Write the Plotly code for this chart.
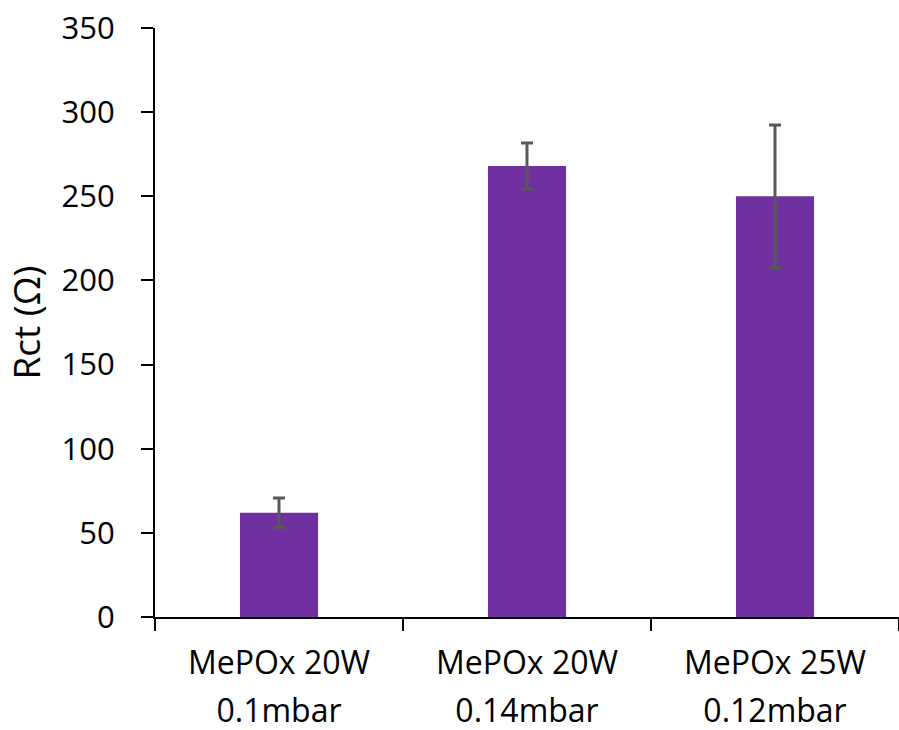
import plotly.graph_objects as go

# Charge-transfer resistance per MePOx deposition condition
conditions = ["MePOx 20W", "MePOx 20W", "MePOx 25W"]
pressures = ["0.1mbar", "0.14mbar", "0.12mbar"]
rct_values = [62, 268, 250]
rct_errors = [8.7, 13.7, 42.4]
y_ticks = [0, 50, 100, 150, 200, 250, 300, 350]

positions = list(range(len(rct_values)))
font_family = "Open Sans, Liberation Sans, sans-serif"

fig = go.Figure()
fig.add_trace(go.Bar(
    x=positions,
    y=rct_values,
    marker=dict(color="#7030A0", line=dict(width=0)),
    error_y=dict(type="data", array=rct_errors, visible=True,
                 color="#595959", thickness=3, width=6),
    width=0.315,
    showlegend=False,
))
# invisible helpers so the extra axes carry the two label lines
fig.add_trace(go.Scatter(x=positions, y=[None] * len(positions), xaxis="x2",
                         mode="markers", showlegend=False, hoverinfo="skip"))
fig.add_trace(go.Scatter(x=positions, y=[None] * len(positions), xaxis="x3",
                         mode="markers", showlegend=False, hoverinfo="skip"))

axis_range = [-0.5, len(rct_values) - 0.5]
boundaries = [i - 0.5 for i in range(len(rct_values) + 1)]
label_font = dict(size=32, family=font_family, color="black")

fig.update_layout(
    width=899, height=730,
    margin=dict(l=155, r=0, t=28, b=113),
    paper_bgcolor="white", plot_bgcolor="white",
    font=dict(family=font_family, color="black"),
    xaxis=dict(
        type="linear", range=axis_range,
        tickmode="array", tickvals=boundaries, ticktext=[""] * len(boundaries),
        ticks="outside", ticklen=12, tickwidth=2, tickcolor="black",
        showline=True, linewidth=2, linecolor="black",
        showgrid=False, zeroline=False,
    ),
    # first line of the category labels
    xaxis2=dict(
        type="linear", range=axis_range, overlaying="x", side="bottom", anchor="y",
        tickmode="array", tickvals=positions, ticktext=conditions,
        ticks="", showline=False, showgrid=False, zeroline=False,
        tickfont=label_font, ticklabelstandoff=24,
    ),
    # second line of the category labels
    xaxis3=dict(
        type="linear", range=axis_range, overlaying="x", side="bottom", anchor="y",
        tickmode="array", tickvals=positions, ticktext=pressures,
        ticks="", showline=False, showgrid=False, zeroline=False,
        tickfont=label_font, ticklabelstandoff=72,
    ),
    yaxis=dict(
        range=[0, 350], tickmode="array", tickvals=y_ticks,
        ticks="outside", ticklen=12, tickwidth=2, tickcolor="black",
        showline=True, linewidth=2, linecolor="black",
        showgrid=False, zeroline=False,
        tickfont=dict(size=31, family=font_family, color="black"),
        ticklabelstandoff=20,
        title=dict(text="Rct (Ω)", font=dict(size=37, family=font_family, color="black"),
                   standoff=10),
    ),
)

fig.write_html("out.html")
